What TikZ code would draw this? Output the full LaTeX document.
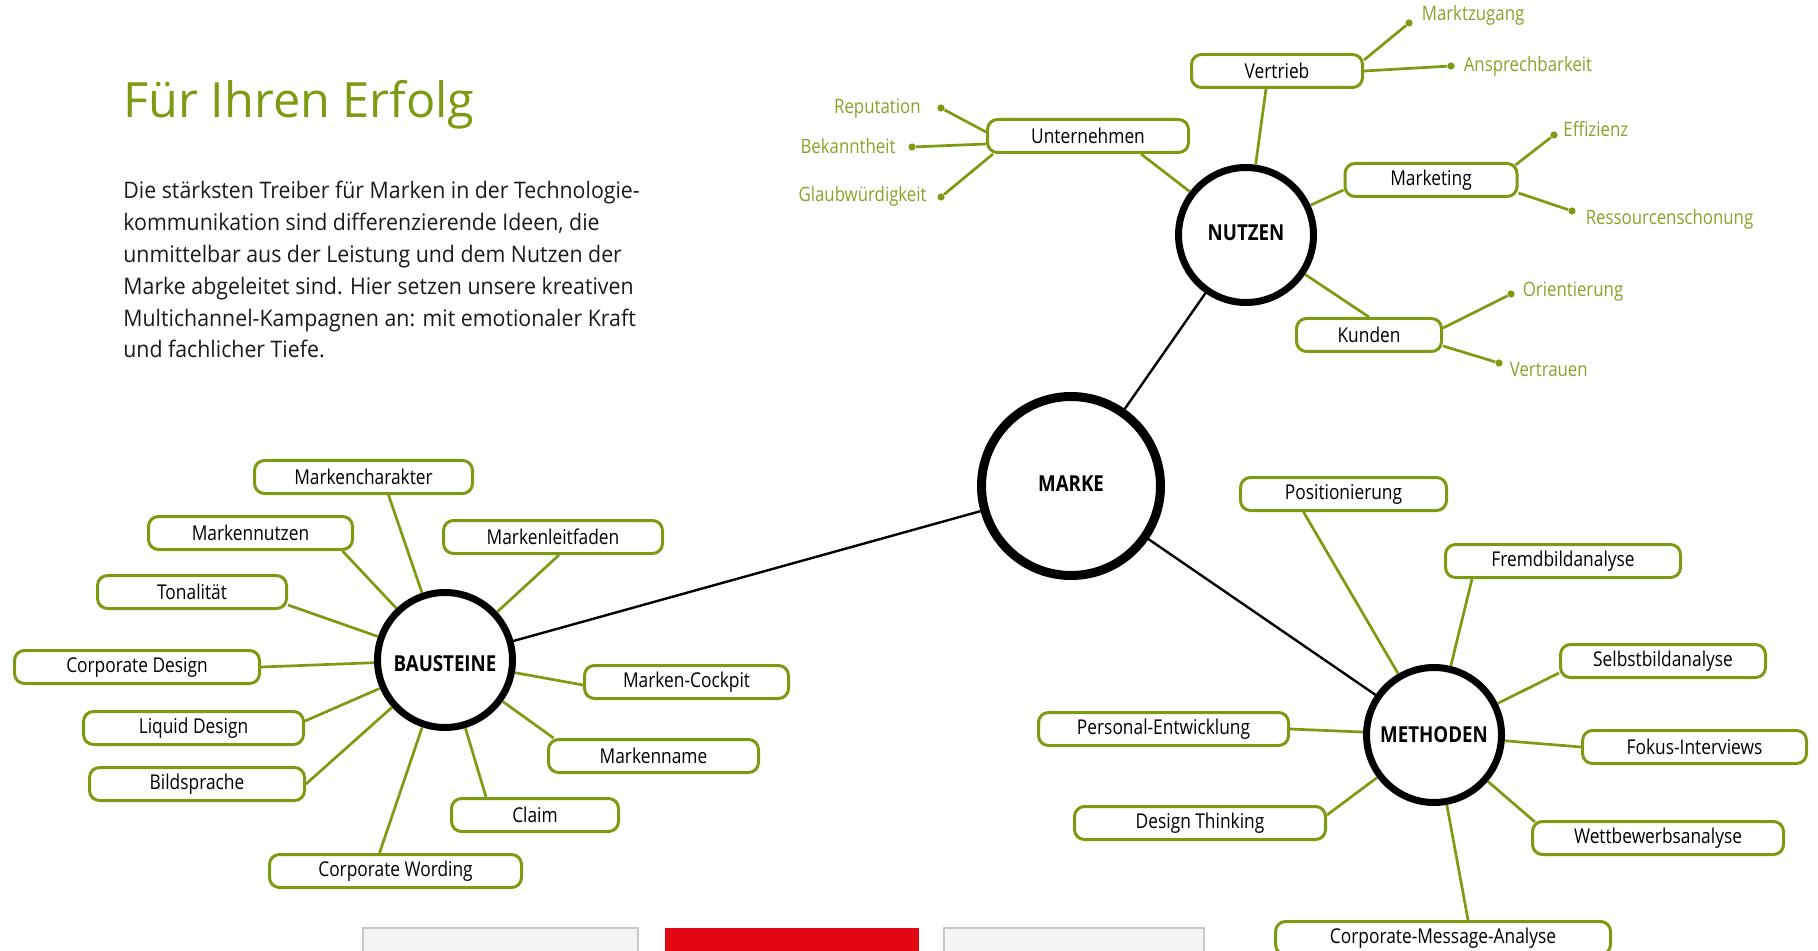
\documentclass[tikz,border=0pt]{standalone}
\usepackage{fontspec}
\setmainfont{Open Sans}
\newfontfamily\labelfont[FakeStretch=0.85]{Open Sans}
\newfontfamily\bodyfont[FakeStretch=0.935]{Open Sans}
\usepackage{xcolor}
\usetikzlibrary{positioning}

\definecolor{brandgreen}{RGB}{126,154,18}
\definecolor{leafgreen}{RGB}{136,163,40}
\definecolor{brandred}{RGB}{227,6,19}
\definecolor{panelgray}{RGB}{244,244,242}
\definecolor{panelline}{RGB}{200,200,200}
\definecolor{bodytext}{RGB}{26,26,26}

\begin{document}
\begin{tikzpicture}[
		x=0.5pt, y=-0.5pt,
		every node/.style={font=\labelfont\fontsize{10.2}{12}\selectfont},
		box/.style={rectangle, rounded corners=5pt, draw=brandgreen, line width=1.5pt, fill=white, minimum height=16.5pt, inner sep=0pt},
		hub/.style={circle, draw=black, line width=3.5pt, fill=white, minimum size=67.5pt, inner sep=0pt, font=\labelfont\bfseries\fontsize{11}{13}\selectfont},
		link/.style={draw=brandgreen, line width=1.35pt},
		spoke/.style={draw=black, line width=1.2pt},
		dot/.style={circle, fill=brandgreen, minimum size=3.6pt, inner sep=0pt},
		leaf/.style={text=leafgreen, inner sep=0pt, text height=7pt, text depth=0pt, font=\labelfont\fontsize{9.9}{12}\selectfont}
		]
		\useasboundingbox (0,0) rectangle (1818,951);
		\clip (0,0) rectangle (1818,951);
		
		% Heading and intro text
		\node[anchor=base west, inner sep=0pt, text=brandgreen, font=\fontsize{24.3}{29}\selectfont] (title) at (123,118) {Für Ihren Erfolg};
		\node[anchor=north west, inner sep=0pt, align=left, text=bodytext, font=\bodyfont\fontsize{11.4}{15.9}\selectfont] (intro) at (123,181) {Die stärksten Treiber für Marken in der Technologie-\\kommunikation sind differenzierende Ideen, die\\unmittelbar aus der Leistung und dem Nutzen der\\Marke abgeleitet sind. Hier setzen unsere kreativen\\Multichannel-Kampagnen an: mit emotionaler Kraft\\und fachlicher Tiefe.};
		
		% Hubs
		\node[hub, minimum size=89.5pt, line width=4.5pt, text depth=2pt] (marke) at (1071,486) {MARKE};
		\node[hub, text depth=2pt] (nutzen) at (1246,235) {NUTZEN};
		\node[hub, text height=11.7pt, text depth=0pt] (bausteine) at (445,660) {BAUSTEINE};
		\node[hub] (methoden) at (1434,735) {METHODEN};
		
		\draw[spoke] (marke) -- (nutzen);
		\draw[spoke] (marke) -- (bausteine);
		\draw[spoke] (marke) -- (methoden);
		
		% Nutzen
		\node[box, minimum width=85.5pt] (vertrieb) at (1277,71) {Vertrieb};
		\node[box, minimum width=100.5pt] (unternehmen) at (1088,136) {Unternehmen};
		\node[box, minimum width=86pt] (marketing) at (1431,180) {Marketing};
		\node[box, minimum width=72.5pt] (kunden) at (1369,335) {Kunden};
		
		\draw[link] ([xshift=-5.5pt]vertrieb.south) -- (nutzen);
		\draw[link] ([xshift=26.5pt]unternehmen.south) -- (nutzen);
		\draw[link] ([yshift=-5pt]marketing.west) -- (nutzen);
		\draw[link] (kunden.north) -- (nutzen);
		
		% Nutzen leaves
		\node[dot] (dmarkt) at (1409,23) {};
		\node[dot] (dansprech) at (1451,66) {};
		\node[dot] (dreput) at (941,108) {};
		\node[dot] (dbekannt) at (912,147) {};
		\node[dot] (dglaub) at (941,197) {};
		\node[dot] (deffiz) at (1554,135) {};
		\node[dot] (dressource) at (1572,211) {};
		\node[dot] (dorient) at (1511,294) {};
		\node[dot] (dvertrau) at (1499,363) {};
		
		\node[leaf, right=4.2pt of dmarkt, yshift=4.5pt] (markt) {Marktzugang};
		\node[leaf, right=4.2pt of dansprech, yshift=0.5pt] (ansprech) {Ansprechbarkeit};
		\node[leaf, left=8pt of dreput, yshift=0.75pt] (reput) {Reputation};
		\node[leaf, left=6pt of dbekannt] (bekannt) {Bekanntheit};
		\node[leaf, left=5pt of dglaub, yshift=1pt] (glaub) {Glaubwürdigkeit};
		\node[leaf, right=2.5pt of deffiz, yshift=2.5pt] (effiz) {Effizienz};
		\node[leaf, right=4.7pt of dressource, yshift=-3.25pt] (ressource) {Ressourcenschonung};
		\node[leaf, right=3.7pt of dorient, yshift=2.25pt] (orient) {Orientierung};
		\node[leaf, right=3.2pt of dvertrau, yshift=-3.25pt] (vertrau) {Vertrauen};
		
		\draw[link] ([yshift=5.5pt]vertrieb.east) -- (dmarkt);
		\draw[link] (vertrieb.east) -- (dansprech);
		\draw[link] ([yshift=2pt]unternehmen.west) -- (dreput);
		\draw[link] ([yshift=-4pt]unternehmen.west) -- (dbekannt);
		\draw[link] ([xshift=3.5pt]unternehmen.south west) -- (dglaub);
		\draw[link] ([xshift=-1.5pt,yshift=-1.5pt]marketing.north east) -- (deffiz);
		\draw[link] ([yshift=-6.5pt]marketing.east) -- (dressource);
		\draw[link] ([yshift=3.5pt]kunden.east) -- (dorient);
		\draw[link] ([yshift=-5.5pt]kunden.east) -- (dvertrau);
		
		% Bausteine
		\node[box, minimum width=109pt] (mcharakter) at (363.5,477) {Markencharakter};
		\node[box, minimum width=102pt] (mnutzen) at (250.5,533) {Markennutzen};
		\node[box, minimum width=109.5pt] (mleitfaden) at (553,537) {Markenleitfaden};
		\node[box, minimum width=94.5pt] (tonal) at (192,592) {Tonalität};
		\node[box, minimum width=122.5pt] (cdesign) at (137,667) {Corporate Design};
		\node[box, minimum width=102pt] (mcockpit) at (686.5,682) {Marken-Cockpit};
		\node[box, minimum width=110pt] (ldesign) at (193.5,728) {Liquid Design};
		\node[box, minimum width=105pt] (mname) at (653.5,756) {Markenname};
		\node[box, minimum width=107.5pt] (bildsprache) at (197,784) {Bildsprache};
		\node[box, minimum width=83.5pt] (claim) at (535,815) {Claim};
		\node[box, minimum width=126pt] (cwording) at (395.5,871) {Corporate Wording};
		
		\draw[link] ([xshift=12.5pt]mcharakter.south) -- (bausteine);
		\draw[link] ([xshift=46pt]mnutzen.south) -- (bausteine);
		\draw[link] ([xshift=3pt]mleitfaden.south) -- (bausteine);
		\draw[link] ([yshift=-6.5pt]tonal.east) -- (bausteine);
		\draw[link] (cdesign.east) -- (bausteine);
		\draw[link] ([yshift=-1.5pt]mcockpit.west) -- (bausteine);
		\draw[link] ([yshift=3.5pt]ldesign.east) -- (bausteine);
		\draw[link] ([xshift=-50pt]mname.north) -- (bausteine);
		\draw[link] (bildsprache.east) -- (bausteine);
		\draw[link] ([xshift=-24.5pt]claim.north) -- (bausteine);
		\draw[link] ([xshift=-8pt]cwording.north) -- (bausteine);
		
		% Methoden
		\node[box, minimum width=103pt] (position) at (1343.5,494) {Positionierung};
		\node[box, minimum width=117.5pt] (fremdbild) at (1563,561) {Fremdbildanalyse};
		\node[box, minimum width=102.5pt] (selbstbild) at (1663,661) {Selbstbildanalyse};
		\node[box, minimum width=125pt] (personal) at (1163.5,729) {Personal-Entwicklung};
		\node[box, minimum width=112pt] (fokus) at (1694.5,747) {Fokus-Interviews};
		\node[box, minimum width=125.5pt] (dthinking) at (1200,823) {Design Thinking};
		\node[box, minimum width=125.5pt] (wettbewerb) at (1658,838) {Wettbewerbsanalyse};
		\node[box, minimum width=167.5pt] (cmessage) at (1443,938) {Corporate-Message-Analyse};
		
		\draw[link] ([xshift=-20pt]position.south) -- (methoden);
		\draw[link] ([xshift=-45.5pt]fremdbild.south) -- (methoden);
		\draw[link] ([yshift=-6pt]selbstbild.west) -- (methoden);
		\draw[link] (personal.east) -- (methoden);
		\draw[link] (fokus.west) -- (methoden);
		\draw[link] ([yshift=4pt]dthinking.east) -- (methoden);
		\draw[link] ([xshift=2pt,yshift=-1pt]wettbewerb.north west) -- (methoden);
		\draw[link] ([xshift=12.5pt]cmessage.north) -- (methoden);
		
		% Tabs at the bottom edge
		\fill[panelgray] (363,928) rectangle (638,960);
		\draw[panelline, line width=0.8pt] (363,960) |- (638,928) -- (638,960);
		\fill[brandred] (665,928) rectangle (919,960);
		\fill[panelgray] (944,928) rectangle (1204,960);
		\draw[panelline, line width=0.8pt] (944,960) |- (1204,928) -- (1204,960);
		
	\end{tikzpicture}
\end{document}
